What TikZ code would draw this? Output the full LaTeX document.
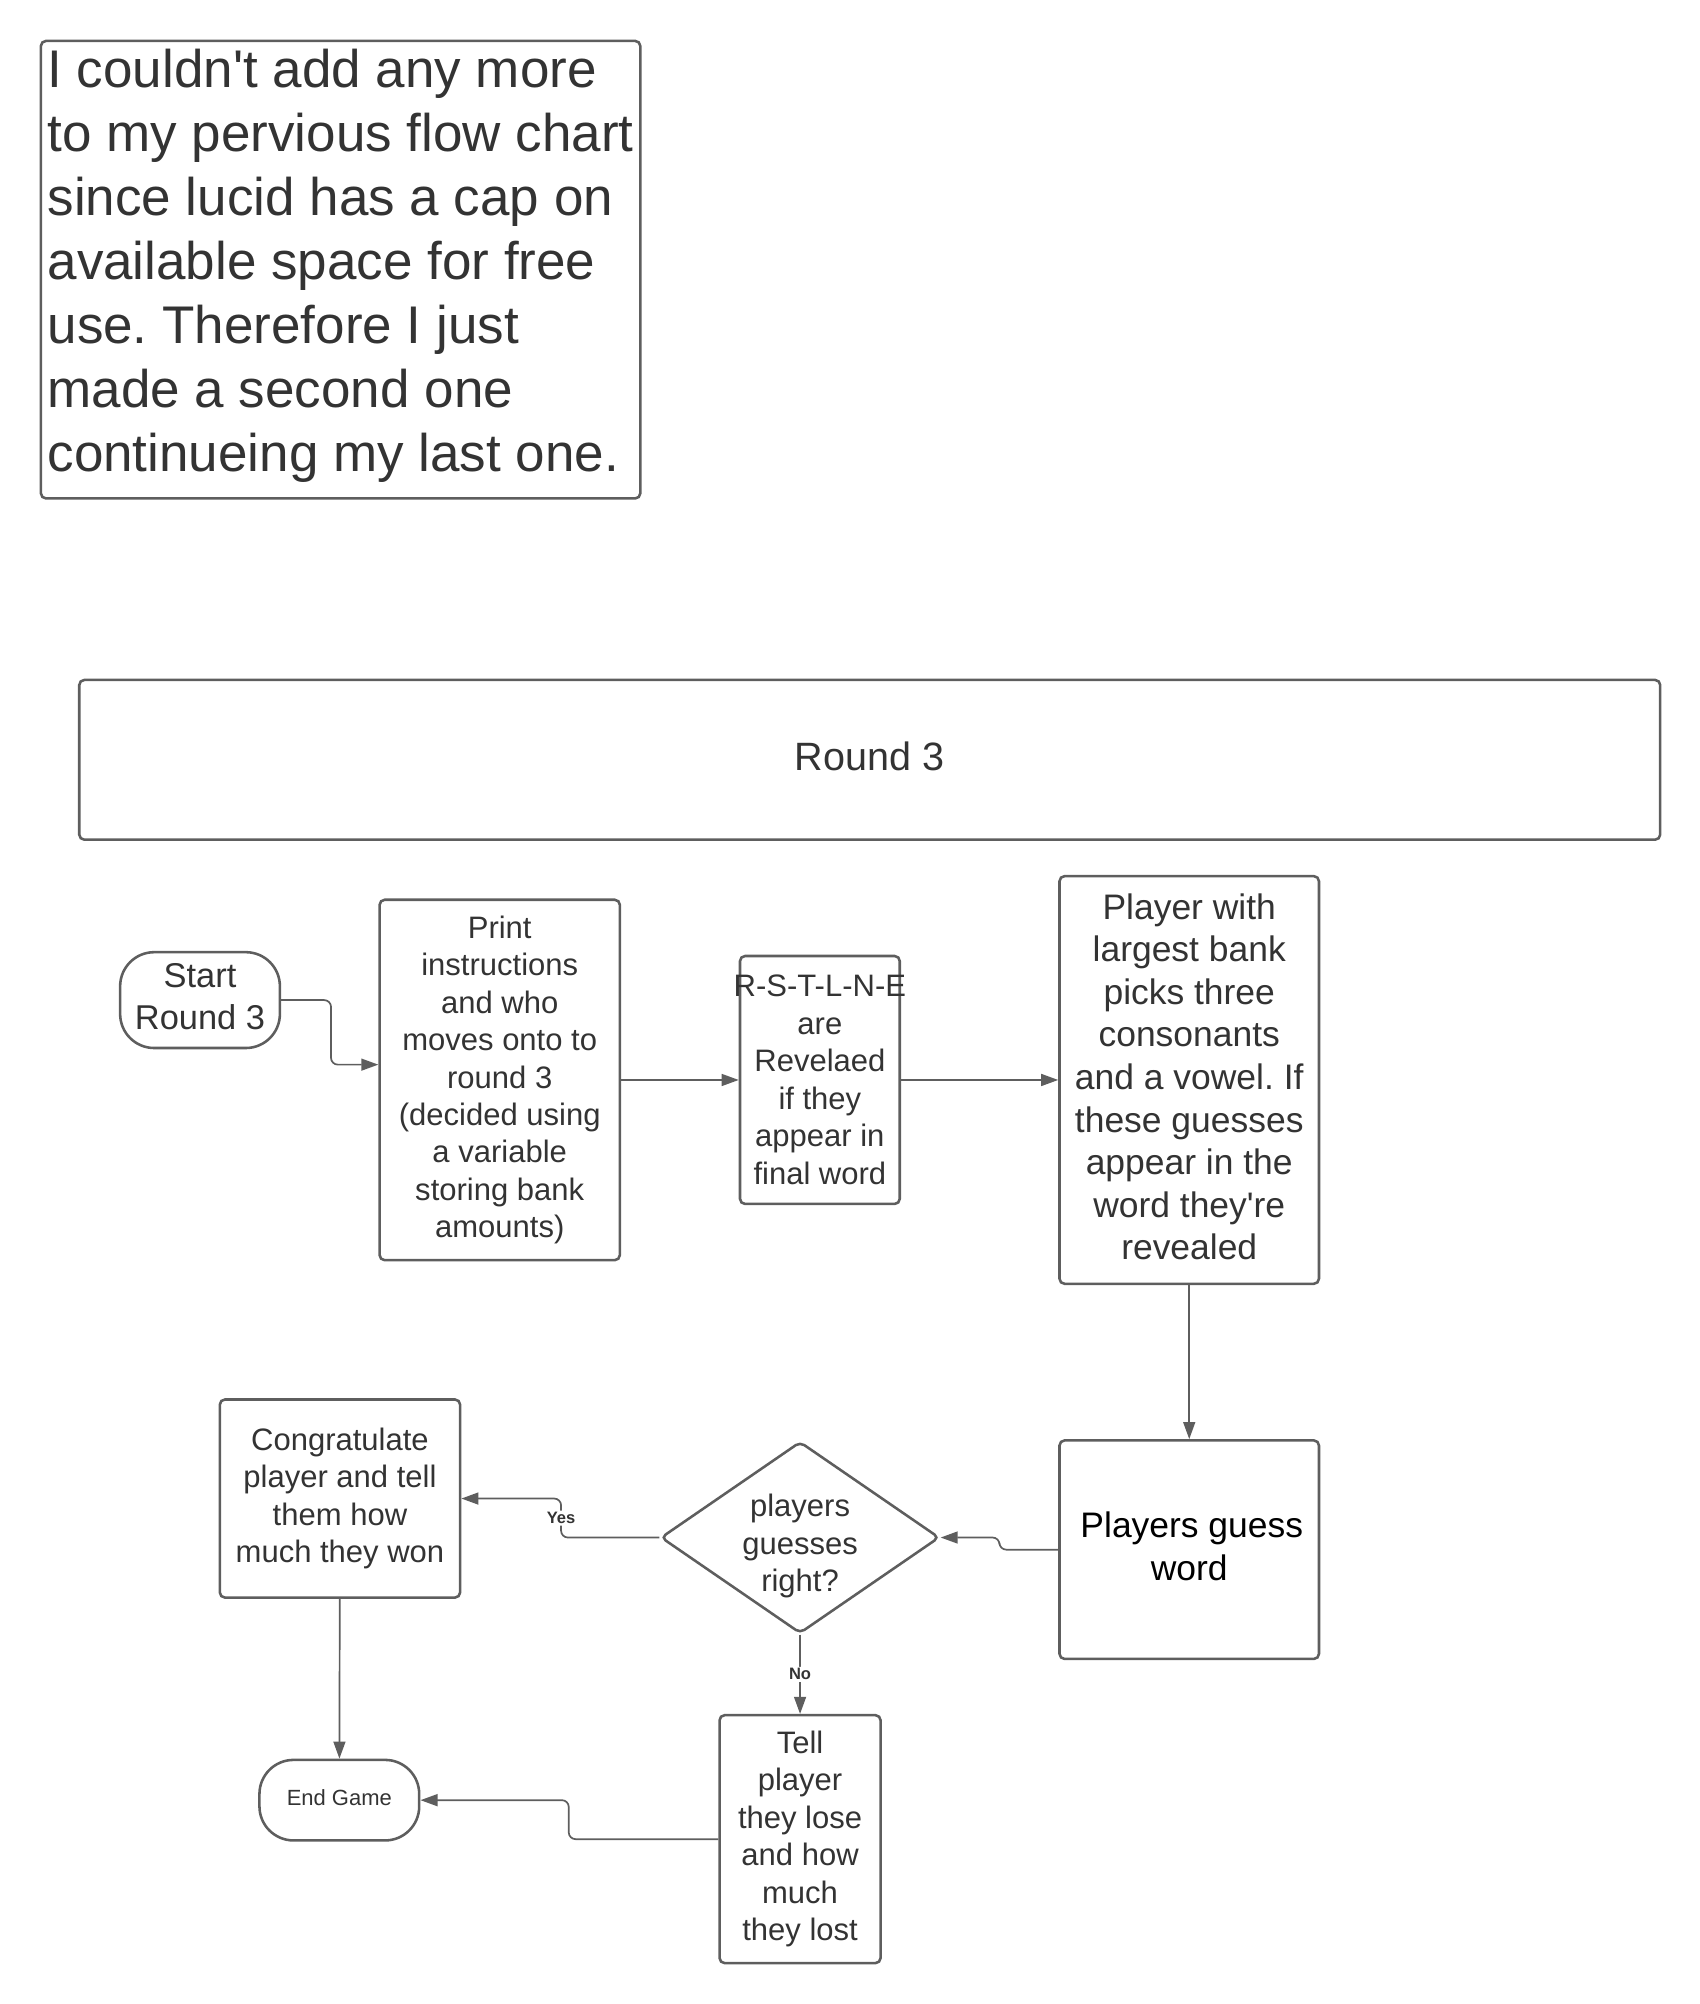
\documentclass[tikz,border=0pt]{standalone}
\usepackage{fontspec}
\setmainfont{Liberation Sans}[Ligatures=TeXOff]
\frenchspacing
\usetikzlibrary{shapes.geometric,arrows.meta}
\definecolor{lineGray}{HTML}{5E5E5E}
\definecolor{textGray}{HTML}{333333}

\tikzset{every picture/.style={line width=0.75pt}}
\tikzset{
  sized/.style 2 args={minimum width=#1*0.75pt, minimum height=#2*0.75pt},
  box/.style={draw=lineGray, line width=1.5pt, rounded corners=3pt, text=textGray,
    align=center, inner sep=0pt, font={\fontsize{18.2}{22}\selectfont}},
  bigbox/.style={box, font={\fontsize{20.8}{25}\selectfont}},
  terminal/.style={box, rounded corners=20pt},
  decision/.style={box, diamond, shape aspect=1.45},
  flow/.style={draw=lineGray, line width=1pt, rounded corners=4pt,
    -{Triangle[length=10pt,width=7pt]}},
  lbl/.style={fill=white, text=textGray, inner sep=1pt, font={\fontsize{9.7}{11}\bfseries}}
}

\begin{document}
\begin{tikzpicture}[x=0.75pt,y=0.75pt,yscale=-1,xscale=1]
	\useasboundingbox (0,0) rectangle (1330,1568);

	%Shape: Rectangle [note]
	\node [box, anchor=north west, sized={469}{358}, align=left, inner xsep=0pt,
	  font={\fontsize{31.1}{37.5}\selectfont}] (note) at (31,31)
	  {I couldn't add any more\\to my pervious flow chart\\since lucid has a cap on\\available space for free\\use. Therefore I just\\made a second one\\continueing my last one.\rule[-11pt]{0pt}{1pt}};

	%Shape: Rectangle [title]
	\node [box, sized={1237}{125}, font={\fontsize{23.2}{28}\selectfont}] (round) at (680.5,594.5) {Round 3\rule[-4pt]{0pt}{1pt}};

	%Shape: Terminal [start]
	\node [terminal, sized={125}{75}, font={\fontsize{20.2}{24.7}\selectfont}] (start) at (156.5,782.5) {Start\\Round 3\rule[-4pt]{0pt}{1pt}};
	%Shape: Rectangle [print]
	\node [box, sized={188}{282}] (print) at (391,845)
	  {Print\\instructions\\and who\\moves onto to\\round 3\\(decided using\\a variable\\storing bank\\amounts)};
	%Shape: Rectangle [reveal]
	\node [box, sized={125}{194}] (reveal) at (641.5,845)
	  {\makebox[0pt]{R-S-T-L-N-E}\\are\\Revelaed\\if they\\appear in\\final word};
	%Shape: Rectangle [pick]
	\node [bigbox, sized={203}{319}] (pick) at (930.5,845)
	  {Player with\\largest bank\\picks three\\consonants\\and a vowel. If\\these guesses\\appear in the\\word they're\\revealed\rule[-4pt]{0pt}{1pt}};
	%Shape: Rectangle [guess]
	\node [bigbox, sized={203}{171}, text=black] (guess) at (930.5,1212.5)
	  {\hspace*{3pt}Players guess\\word\rule[-4pt]{0pt}{1pt}};
	%Shape: Diamond [decide]
	\node [decision, sized={218}{150},
	  label={[align=center, text=textGray, yshift=-5pt, font={\fontsize{18.2}{22}\selectfont}]center:{players\\guesses\\right?}}] (decide) at (626,1203) {};
	%Shape: Rectangle [congrats]
	\node [box, sized={188}{155}] (congrats) at (266,1172.5)
	  {Congratulate\\player and tell\\them how\\much they won};
	%Shape: Rectangle [tell]
	\node [box, sized={126}{194}] (tell) at (626,1439)
	  {Tell\\player\\they lose\\and how\\much\\they lost};
	%Shape: Terminal [end]
	\node [terminal, sized={125}{63}, font={\fontsize{12.9}{15}\selectfont}] (endgame) at (265.5,1408.5) {End Game\rule[-3pt]{0pt}{1pt}};

	% Connectors
	\draw [flow] (start.east) -- ++(39,0) |- ([yshift=-9pt]print.west);
	\draw [flow] (print) -- (reveal);
	\draw [flow] (reveal) -- (pick);
	\draw [flow] (pick) -- (guess);
	\draw [flow] (guess.west) -- ++(-46,0) |- (decide.east);
	\draw [flow] (decide.west) -- ++(-77,0) |- node [lbl, pos=0.25] {Yes} (congrats.east);
	\draw [flow] (decide) -- node [lbl] {No} (tell);
	\draw [flow] (congrats) -- (endgame);
	\draw [flow] (tell.west) -- ++(-117,0) |- (endgame.east);

\end{tikzpicture}
\end{document}
